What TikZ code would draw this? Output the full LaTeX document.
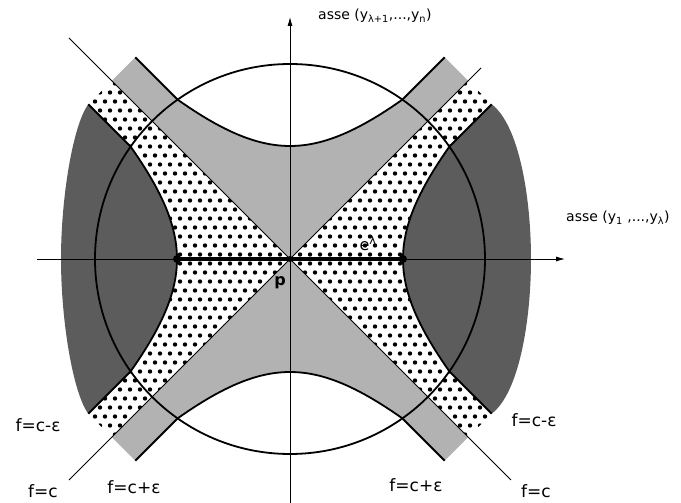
\documentclass[tikz,border=0pt]{standalone}
\usepackage{fontspec}
\setmainfont{DejaVu Sans}
\usetikzlibrary{arrows.meta}
\tikzset{
  bold/.style={line width=1.8pt},
  thin/.style={line width=0.8pt},
  axis/.style={line width=0.8pt,-{Latex[length=9pt,width=5pt]}},
  darkfill/.style={fill=black!64},
  lightfill/.style={fill=black!30},
  lbl/.style={font=\fontsize{17}{19}\selectfont,inner sep=0pt},
  axlbl/.style={font=\fontsize{14}{16}\selectfont,inner sep=0pt,anchor=west}
}

\begin{document}
\begin{tikzpicture}[x=1pt,y=1pt]
\useasboundingbox (-290,-244) rectangle (391,259);
\coordinate (p) at (0,0);

% one quarter, mirrored into the other three
\foreach \sx/\rx in {1/241,-1/229}{
  \foreach \sy in {1,-1}{
    \begin{scope}[xscale=\sx,yscale=\sy]
      \coordinate (vx) at (113,0);
      \coordinate (vy) at (0,113);
      \coordinate (mid) at (178.2,178.2);
      \coordinate (lo) at (201.7,154.7);
      \coordinate (hi) at (154.7,201.7);
      \coordinate (rim) at (\rx,0);
      % f <= c-eps
      \fill[darkfill] (vx) -- plot[domain=0:0.8776,samples=25,variable=\t] ({113*cosh(\t)},{113*sinh(\t)})
        -- (lo) .. controls (\rx-12,134) and (\rx,62) .. (rim) -- cycle;
      % c <= f <= c+eps
      \fill[lightfill] (p) -- (vy) -- plot[domain=0:0.8776,samples=25,variable=\t] ({113*sinh(\t)},{113*cosh(\t)})
        -- (hi) -- (mid) -- cycle;
      % c-eps <= f <= c
      \begin{scope}
        \clip (p) -- (vx) -- plot[domain=0:0.8776,samples=25,variable=\t] ({113*cosh(\t)},{113*sinh(\t)})
          -- (lo) -- (mid) -- cycle;
        \foreach \i in {0,...,21}{
          \foreach \j in {0,...,21}{
            \fill ({\i*10+5*mod(\j,2)},{\j*9+4.5}) circle[radius=2.2pt];
          }
        }
      \end{scope}
      \draw[bold] plot[domain=0:0.8776,samples=25,variable=\t] ({113*cosh(\t)},{113*sinh(\t)}) -- (lo);
      \draw[bold] plot[domain=0:0.8776,samples=25,variable=\t] ({113*sinh(\t)},{113*cosh(\t)}) -- (hi);
    \end{scope}
  }
}

% level f=c
\coordinate (c1) at (-221,-221);
\coordinate (c2) at (191,191);
\coordinate (c3) at (-221,221);
\coordinate (c4) at (221,-221);
\draw[thin] (c1) -- (c2);
\draw[thin] (c3) -- (c4);

% axes
\coordinate (xl) at (-253,0);
\coordinate (xr) at (275,0);
\coordinate (yb) at (0,-244);
\coordinate (yt) at (0,242);
\draw[axis] (xl) -- (xr);
\draw[axis] (yb) -- (yt);

\draw[bold] (p) circle[radius=195];

% the cell
\coordinate (e1) at (-113,0);
\coordinate (e2) at (113,0);
\draw[line width=3.6pt] (e1) -- (e2);
\fill (e1) circle[radius=4pt];
\fill (e2) circle[radius=4pt];
\fill (p) circle[radius=3pt];

\node[font=\fontsize{16}{18}\selectfont,inner sep=0pt] (elam) at (78,16) {e\textsuperscript{λ}};
\node[font=\fontsize{16}{18}\selectfont\bfseries,inner sep=0pt] (plbl) at (-10,-24) {p};

\node[axlbl] (yax) at (28,243) {asse (y\textsubscript{λ+1},...,y\textsubscript{n})};
\node[axlbl] (xax) at (276,41) {asse (y\textsubscript{1} ,...,y\textsubscript{λ})};

\node[lbl] (cmepsl) at (-252,-166) {f=c-ε};
\node[lbl] (cl) at (-247,-232) {f=c};
\node[lbl] (cpepsl) at (-156,-228) {f=c+ε};
\node[lbl] (cmepsr) at (244,-161) {f=c-ε};
\node[lbl] (cpepsr) at (126,-226) {f=c+ε};
\node[lbl] (cr) at (246,-232) {f=c};
\end{tikzpicture}
\end{document}
